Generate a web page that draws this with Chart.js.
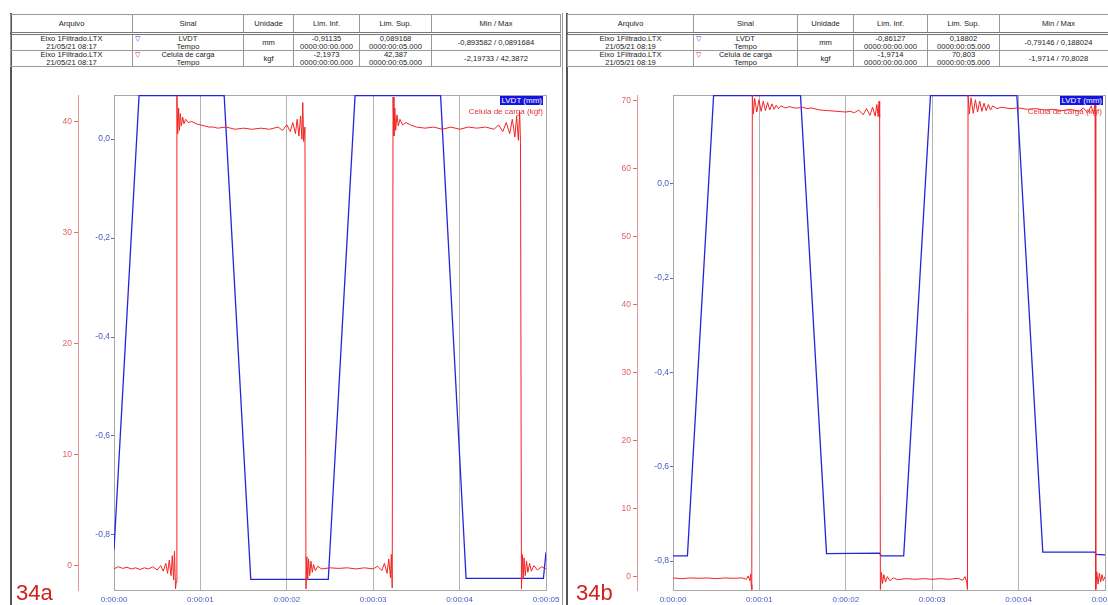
<!DOCTYPE html>
<html>
<head>
<meta charset="utf-8">
<script src="https://cdn.jsdelivr.net/npm/chart.js@4.4.1/dist/chart.umd.min.js"></script>
<style>
  body { margin: 0; width: 1108px; height: 605px; overflow: hidden; position: relative; background: #fff; font-family: "Liberation Sans", Arial, sans-serif; }
  .frame { position: absolute; top: 13px; height: 600px; border-left: 2px solid #555; border-right: 1px solid #999; }
  table.info { position: absolute; top: 14px; width: 550px; border-collapse: collapse; table-layout: fixed; font-size: 7.6px; color: #222; border: 1px solid #444; }
  table.info th, table.info td { border: 1px solid #999; padding: 0; text-align: center; vertical-align: middle; line-height: 7.5px; font-weight: normal; white-space: nowrap; overflow: hidden; }
  table.info tr.hd th { height: 17px; border-bottom: 3px double #777; }
  table.info tr.row td { height: 14px; }
  td.sig { position: relative; text-align: left; }
  td.sig .tri { position: absolute; left: 2px; top: 1px; font-size: 7px; line-height: 7px; font-family: "DejaVu Sans", sans-serif; }
  td.sig .txt { display: inline-block; width: 76px; text-align: center; }
  canvas { position: absolute; top: 70px; }
  .lg-lvdt { position: absolute; top: 96px; background: #1414e0; color: #fff; font-size: 8px; line-height: 9px; padding: 0 1px; }
  .lg-carga { position: absolute; top: 107px; color: #e83030; font-size: 8px; line-height: 9px; }
  .tag { position: absolute; top: 582px; font-size: 22px; line-height: 22px; color: #d0201c; }
</style>
</head>
<body>

<div class="frame" style="left:10px; width:550px;"></div>
<div class="frame" style="left:566px; width:560px;"></div>

<table class="info" style="left:10px;">
  <colgroup><col style="width:122px"><col style="width:111px"><col style="width:50px"><col style="width:66px"><col style="width:72px"><col style="width:129px"></colgroup>
  <tr class="hd"><th>Arquivo</th><th>Sinal</th><th>Unidade</th><th>Lim. Inf.</th><th>Lim. Sup.</th><th>Min / Max</th></tr>
  <tr class="row"><td>Eixo 1Filtrado.LTX<br>21/05/21 08:17</td><td class="sig"><span class="tri" style="color:#3a3ae0">▽</span><span class="txt">LVDT<br>Tempo</span></td><td>mm</td><td>-0,91135<br>0000:00:00.000</td><td>0,089168<br>0000:00:05.000</td><td>-0,893582 / 0,0891684</td></tr>
  <tr class="row"><td>Eixo 1Filtrado.LTX<br>21/05/21 08:17</td><td class="sig"><span class="tri" style="color:#e02020">▽</span><span class="txt">Celula de carga<br>Tempo</span></td><td>kgf</td><td>-2,1973<br>0000:00:00.000</td><td>42,387<br>0000:00:05.000</td><td>-2,19733 / 42,3872</td></tr>
</table>

<table class="info" style="left:567px;">
  <colgroup><col style="width:126px"><col style="width:104px"><col style="width:56px"><col style="width:74px"><col style="width:72px"><col style="width:118px"></colgroup>
  <tr class="hd"><th>Arquivo</th><th>Sinal</th><th>Unidade</th><th>Lim. Inf.</th><th>Lim. Sup.</th><th>Min / Max</th></tr>
  <tr class="row"><td>Eixo 1Filtrado.LTX<br>21/05/21 08:19</td><td class="sig"><span class="tri" style="color:#3a3ae0">▽</span><span class="txt" style="width:82px">LVDT<br>Tempo</span></td><td>mm</td><td>-0,86127<br>0000:00:00.000</td><td>0,18802<br>0000:00:05.000</td><td>-0,79146 / 0,188024</td></tr>
  <tr class="row"><td>Eixo 1Filtrado.LTX<br>21/05/21 08:19</td><td class="sig"><span class="tri" style="color:#e02020">▽</span><span class="txt" style="width:82px">Celula de carga<br>Tempo</span></td><td>kgf</td><td>-1,9714<br>0000:00:00.000</td><td>70,803<br>0000:00:05.000</td><td>-1,9714 / 70,8028</td></tr>
</table>

<canvas id="chartA" width="550" height="535" style="left:10px;"></canvas>
<canvas id="chartB" width="541" height="535" style="left:567px;"></canvas>

<div class="lg-lvdt" style="right:565px;">LVDT (mm)</div>
<div class="lg-carga" style="right:565px;">Celula de carga (kgf)</div>
<div class="lg-lvdt" style="right:5px;">LVDT (mm)</div>
<div class="lg-carga" style="right:6px;">Celula de carga (kgf)</div>

<div class="tag" style="left:16px;">34a</div>
<div class="tag" style="left:576px;">34b</div>

<script>
// Tick labels of the time axis (seconds 0..5)
const xTickLabels = ['0:00:00', '0:00:01', '0:00:02', '0:00:03', '0:00:04', '0:00:05'];

// Axis limits (Lim. Inf. / Lim. Sup. from the tables)
const lvdtLimA = [-0.91135, 0.089168];
const cargaLimA = [-2.1973, 42.387];
const lvdtLimB = [-0.86127, 0.18802];
const cargaLimB = [-1.9714, 70.803];

// 34a - LVDT (mm)
const tempoLvdtA = [0, 0.29, 1.275, 1.583, 2.48, 2.79, 3.78, 4.075, 4.97, 5.0];
const lvdtA = [-0.83, 0.088, 0.088, -0.89, -0.89, 0.088, 0.088, -0.888, -0.888, -0.835];

// 34a - Celula de carga (kgf)
const tempoCargaA = [
  0, 0.05, 0.1, 0.15, 0.2, 0.25, 0.3, 0.35, 0.4, 0.45, 0.5, 0.54, 0.57, 0.6, 0.62, 0.64, 0.66, 0.675, 0.69, 0.70, 0.712, 0.72,
  0.728, 0.738, 0.748, 0.758, 0.768, 0.78, 0.795, 0.81, 0.83, 0.86, 0.9, 0.95, 1.0, 1.05, 1.1, 1.15, 1.2, 1.3, 1.4, 1.5, 1.6, 1.7, 1.8, 1.9, 1.95,
  2.0, 2.04, 2.07, 2.1, 2.12, 2.14, 2.16, 2.175, 2.185, 2.195, 2.21,
  2.222, 2.232, 2.242, 2.252, 2.265, 2.28, 2.295, 2.31, 2.33, 2.36, 2.4, 2.5, 2.6, 2.7, 2.8, 2.9, 3.0, 3.05, 3.1, 3.13, 3.16, 3.18, 3.2, 3.21,
  3.22, 3.23, 3.24, 3.25, 3.26, 3.275, 3.29, 3.31, 3.34, 3.38, 3.43, 3.5, 3.6, 3.7, 3.8, 3.9, 4.0, 4.1, 4.2, 4.3, 4.4, 4.45, 4.5, 4.54, 4.58, 4.61, 4.64, 4.66, 4.68, 4.695, 4.705,
  4.716, 4.726, 4.736, 4.746, 4.76, 4.775, 4.79, 4.81, 4.83, 4.86, 4.9, 4.95, 5.0
];
const cargaA = [
  -0.3, -0.1, -0.25, -0.15, -0.3, -0.2, -0.35, -0.2, -0.3, -0.1, -0.4, 0.0, -0.5, 0.2, -0.7, 0.5, -0.9, 0.9, -1.3, 1.3, -2.1, -1.5,
  42.3, 38.9, 41.2, 39.2, 40.7, 39.6, 40.4, 39.8, 40.2, 39.9, 40.0, 39.8, 39.7, 39.6, 39.5, 39.5, 39.4, 39.5, 39.3, 39.4, 39.3, 39.4, 39.3, 39.5, 39.2,
  39.7, 39.1, 39.9, 38.9, 40.2, 38.7, 40.5, 38.4, 41.7, 38.2, 39.5,
  -2.1, 0.8, -1.3, 0.6, -0.9, 0.4, -0.6, 0.1, -0.45, -0.05, -0.3, -0.2, -0.25, -0.2, -0.3, -0.2, -0.3, -0.05, -0.45, 0.2, -0.7, 0.6, -1.1, 1.0,
  -2.0, 42.2, 38.7, 41.2, 39.2, 40.6, 39.6, 40.2, 39.7, 39.9, 39.7, 39.5, 39.4, 39.5, 39.3, 39.5, 39.3, 39.5, 39.4, 39.5, 39.3, 39.7, 39.1, 39.9, 38.9, 40.2, 38.6, 40.5, 38.3, 40.9, 38.1,
  -2.1, 1.0, -1.2, 0.7, -0.9, 0.4, -0.6, 0.2, -0.5, 0.0, -0.4, -0.1, -0.3
];

// 34b - LVDT (mm)
const tempoLvdtB = [0, 0.167, 0.47, 1.476, 1.777, 2.39, 2.41, 2.67, 2.98, 3.98, 4.28, 4.88, 4.9, 5.0];
const lvdtB = [-0.789, -0.789, 0.187, 0.187, -0.784, -0.783, -0.789, -0.789, 0.187, 0.187, -0.781, -0.781, -0.786, -0.787];

// 34b - Celula de carga (kgf)
const tempoCargaB = [
  0, 0.1, 0.2, 0.3, 0.4, 0.5, 0.6, 0.7, 0.8, 0.85, 0.87, 0.89, 0.9, 0.905, 0.912,
  0.918, 0.93, 0.945, 0.97, 0.995, 1.02, 1.045, 1.07, 1.095, 1.12, 1.145, 1.17, 1.195, 1.22, 1.25, 1.3, 1.35, 1.4, 1.45, 1.5, 1.55, 1.6, 1.7, 1.8, 1.9, 2.0,
  2.05, 2.1, 2.15, 2.2, 2.24, 2.28, 2.31, 2.34, 2.36, 2.375, 2.385, 2.392,
  2.4, 2.412, 2.425, 2.44, 2.46, 2.48, 2.51, 2.55, 2.6, 2.7, 2.8, 2.9, 3.0, 3.1, 3.2, 3.3, 3.35, 3.38, 3.4, 3.408,
  3.415, 3.43, 3.45, 3.475, 3.5, 3.525, 3.55, 3.575, 3.6, 3.625, 3.65, 3.675, 3.7, 3.75, 3.8, 3.9, 4.0, 4.1, 4.2, 4.3, 4.4, 4.5, 4.6, 4.7, 4.75, 4.8, 4.84, 4.87, 4.885,
  4.893, 4.905, 4.92, 4.935, 4.95, 4.965, 4.98, 5.0
];
const cargaB = [
  -0.2, -0.3, -0.2, -0.25, -0.2, -0.3, -0.2, -0.25, -0.2, -0.4, 0.1, -0.6, 0.4, -1.2, -1.9,
  70.8, 68.0, 70.3, 68.3, 70.1, 68.4, 69.9, 68.5, 69.7, 68.6, 69.5, 68.7, 69.3, 68.8, 69.2, 68.9, 69.1, 68.9, 68.9, 69.0, 68.8, 68.9, 68.6, 68.5, 68.4, 68.3,
  68.4, 68.2, 68.6, 67.9, 68.8, 67.8, 69.0, 67.7, 69.4, 67.6, 69.9, 67.5,
  -1.9, 0.6, -1.0, 0.3, -0.8, 0.0, -0.6, -0.2, -0.45, -0.3, -0.4, -0.3, -0.4, -0.3, -0.4, -0.25, -0.55, 0.0, -0.8, -1.9,
  70.8, 68.0, 70.4, 68.1, 70.1, 68.3, 69.9, 68.4, 69.6, 68.5, 69.4, 68.6, 69.2, 68.8, 69.0, 68.8, 68.9, 68.7, 68.8, 68.6, 68.7, 68.5, 68.7, 68.4, 68.9, 68.2, 69.2, 68.0, 69.8,
  -1.9, 0.7, -1.1, 0.5, -0.8, 0.3, -0.6, 0.0
];

Chart.defaults.font.family = 'Liberation Sans, Arial, sans-serif';
Chart.defaults.font.size = 8;

// grey frame round the plot area
const plotFrame = {
  id: 'plotFrame',
  beforeDatasetsDraw(chart) {
    const a = chart.chartArea;
    const ctx = chart.ctx;
    ctx.save();
    ctx.strokeStyle = '#a8a8a8';
    ctx.lineWidth = 1;
    ctx.strokeRect(Math.round(a.left) + 0.5, Math.round(a.top) + 0.5, a.right - a.left, a.bottom - a.top);
    ctx.restore();
  }
};

function toPoints(ts, vs) {
  return ts.map((t, i) => ({ x: t, y: vs[i] }));
}

function makeChart(id, tLvdt, lvdt, tCarga, carga, lvdtLim, cargaLim, redWidth, padRight) {
  const ctx = document.getElementById(id).getContext('2d');
  return new Chart(ctx, {
    type: 'line',
    data: {
      datasets: [{
        label: 'Celula de carga (kgf)',
        data: toPoints(tCarga, carga),
        borderColor: '#f02424',
        borderWidth: 1,
        pointRadius: 0,
        yAxisID: 'yR'
      }, {
        label: 'LVDT (mm)',
        data: toPoints(tLvdt, lvdt),
        borderColor: '#2424dc',
        borderWidth: 1.3,
        pointRadius: 0,
        yAxisID: 'yB'
      }]
    },
    options: {
      responsive: false,
      animation: false,
      devicePixelRatio: 1,
      layout: { padding: { top: 25, right: padRight, left: 0, bottom: 0 } },
      plugins: { legend: { display: false }, tooltip: { enabled: false } },
      scales: {
        x: {
          type: 'linear',
          min: 0,
          max: 5,
          border: { color: '#7c86c8' },
          grid: { color: '#b4b4b4', drawTicks: false },
          ticks: {
            stepSize: 1,
            padding: 5,
            color: '#4a58c8',
            maxRotation: 0,
            callback: (v) => xTickLabels[v]
          },
          afterFit: (s) => { s.height = 15; s.paddingLeft = 0; s.paddingRight = 0; }
        },
        yB: {
          position: 'left',
          weight: 0,
          min: lvdtLim[0],
          max: lvdtLim[1],
          border: { color: '#a8a8a8' },
          grid: { drawOnChartArea: false, color: '#5a64c8', tickLength: 3 },
          ticks: {
            stepSize: 0.2,
            includeBounds: false,
            padding: 1,
            color: '#4a58c8',
            font: { size: 8.5 },
            callback: (v) => v.toFixed(1).replace('.', ',')
          },
          afterFit: (s) => { s.width = 36; s.paddingTop = 0; s.paddingBottom = 0; }
        },
        yR: {
          position: 'left',
          weight: 1,
          min: cargaLim[0],
          max: cargaLim[1],
          border: { color: '#e89494' },
          grid: { drawOnChartArea: false, color: '#e07070', tickLength: 4 },
          ticks: {
            stepSize: 10,
            includeBounds: false,
            padding: 2,
            color: '#e06464',
            font: { size: 8.5 }
          },
          afterFit: (s) => { s.width = redWidth; s.paddingTop = 0; s.paddingBottom = 0; }
        }
      }
    },
    plugins: [plotFrame]
  });
}

const chartA = makeChart('chartA', tempoLvdtA, lvdtA, tempoCargaA, cargaA, lvdtLimA, cargaLimA, 68, 14);
const chartB = makeChart('chartB', tempoLvdtB, lvdtB, tempoCargaB, cargaB, lvdtLimB, cargaLimB, 70, 3);
</script>
</body>
</html>
